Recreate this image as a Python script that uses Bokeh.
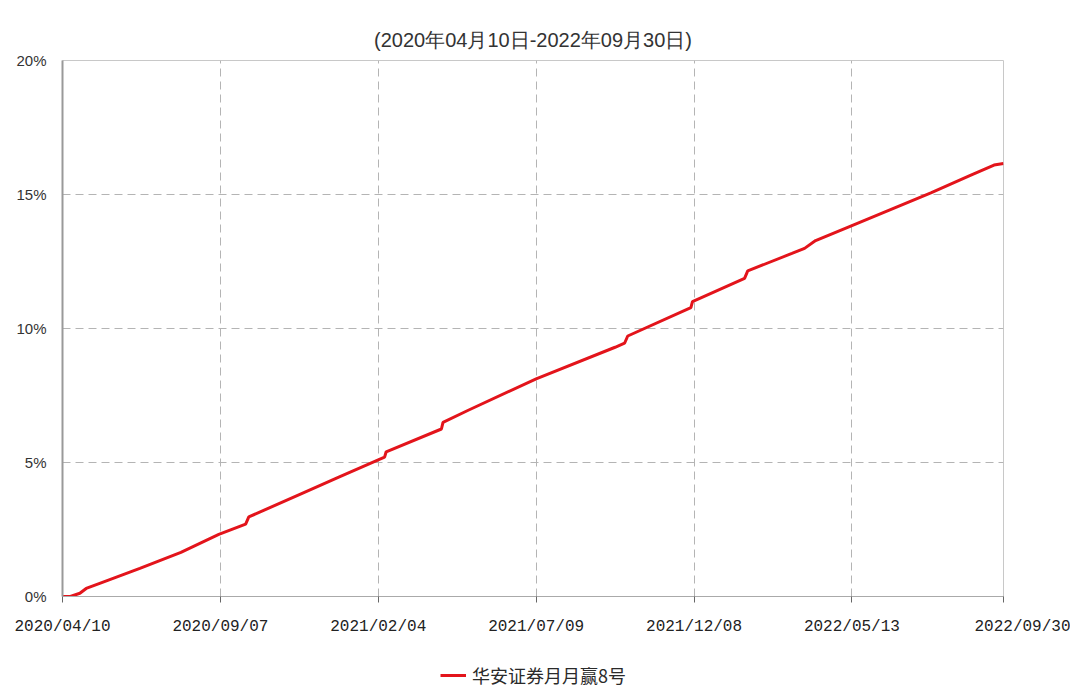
from bokeh.plotting import figure
from bokeh.layouts import column
from bokeh.models import (Range1d, FixedTicker, PrintfTickFormatter, Legend,
                          LegendItem, Title, ColumnDataSource)
from bokeh.embed import file_html
from bokeh.resources import INLINE

# ---- data (trading-day index vs cumulative return, %) ----
title_text = "(2020年04月10日-2022年09月30日)"
series_name = "华安证券月月赢8号"

day_index = [0, 5, 11, 15, 24, 49, 75, 99, 116, 118, 150, 175, 200, 204, 205,
             240, 241, 257, 300, 350, 356, 358, 398, 399, 432, 434, 462, 470,
             477, 500, 550, 575, 590, 596]
returns_pct = [0.00, 0.00, 0.12, 0.30, 0.50, 1.05, 1.65, 2.32, 2.70, 2.97,
               3.80, 4.45, 5.10, 5.20, 5.40, 6.25, 6.50, 6.95, 8.12, 9.30,
               9.45, 9.72, 10.78, 11.00, 11.87, 12.15, 12.80, 12.99, 13.28,
               13.84, 15.06, 15.71, 16.10, 16.16]

tick_index = [0, 100, 200, 300, 400, 500, 596]
tick_labels = ["2020/04/10", "2020/09/07", "2021/02/04", "2021/07/09",
               "2021/12/08", "2022/05/13", "2022/09/30"]
y_ticks = [0, 5, 10, 15, 20]

LINE_COLOR = "#e3141b"
src = ColumnDataSource(data=dict(x=day_index, y=returns_pct))

p = figure(frame_width=941, frame_height=536, output_backend="svg",
           toolbar_location=None,
           x_range=Range1d(0, tick_index[-1]), y_range=Range1d(0, 20),
           min_border_left=62, min_border_right=67, min_border_top=60,
           min_border_bottom=44)
p.background_fill_color = "white"
p.border_fill_color = "white"
p.outline_line_color = "#c8c8c8"
p.outline_line_width = 1

t = Title(text=title_text, align="center", text_font="Liberation Sans",
          text_font_size="20px", text_font_style="normal", text_color="#333333",
          standoff=20)
p.add_layout(t, "above")

# axes
labels = list(tick_labels)
labels[-1] = "\u00a0" * 5 + labels[-1]
p.xaxis.ticker = FixedTicker(ticks=tick_index)
p.xaxis.major_label_overrides = {i: s for i, s in zip(tick_index, labels)}
p.xaxis.major_label_text_font = "Liberation Mono"
p.xaxis.major_label_text_font_size = "16px"
p.xaxis.major_label_text_color = "#222222"
p.xaxis.axis_line_color = "#aaaaaa"
p.xaxis.major_tick_line_color = "#666666"
p.xaxis.major_tick_out = 6
p.xaxis.major_tick_in = 0
p.xaxis.minor_tick_line_color = None
p.xaxis.major_label_standoff = 15

p.yaxis.ticker = FixedTicker(ticks=y_ticks)
p.yaxis.formatter = PrintfTickFormatter(format="%d%%")
p.yaxis.major_label_text_font = "Liberation Sans"
p.yaxis.major_label_text_font_size = "15px"
p.yaxis.major_label_text_color = "#333333"
p.yaxis.axis_line_color = "#999999"
p.yaxis.axis_line_width = 2
p.yaxis.major_tick_line_color = None
p.yaxis.minor_tick_line_color = None
p.yaxis.major_label_standoff = 10

# grids
for g in (p.xgrid, p.ygrid):
    g.grid_line_color = "#b4b4b4"
    g.grid_line_dash = "8 5"
    g.grid_line_width = 1
p.xgrid.ticker = FixedTicker(ticks=tick_index[1:-1])
p.ygrid.ticker = FixedTicker(ticks=y_ticks[1:-1])

p.line("x", "y", source=src, line_color=LINE_COLOR, line_width=3)

# ---- legend strip below the chart ----
q = figure(width=1070, height=48, output_backend="svg", toolbar_location=None,
           x_range=Range1d(0, 1), y_range=Range1d(0, 1),
           min_border_left=0, min_border_right=0, min_border_top=0,
           min_border_bottom=0)
q.axis.visible = False
q.xgrid.visible = False
q.ygrid.visible = False
q.outline_line_color = None
q.background_fill_color = "white"
q.border_fill_color = "white"
# a legend-only line kept outside the visible range
lr = q.line(x=[5, 6], y=[5, 6], line_color=LINE_COLOR, line_width=3)
legend = Legend(items=[LegendItem(label=series_name, renderers=[lr])],
                orientation="horizontal", location=(378, 0),
                label_text_font="Noto Sans CJK SC", label_text_font_size="18px",
                label_text_color="#2a2a2a", glyph_width=26, glyph_height=16,
                border_line_color=None, background_fill_alpha=0,
                margin=0, padding=4, label_standoff=6)
q.add_layout(legend, "center")

layout = column(p, q, spacing=0)
open("out.html", "w").write(file_html(layout, INLINE))
